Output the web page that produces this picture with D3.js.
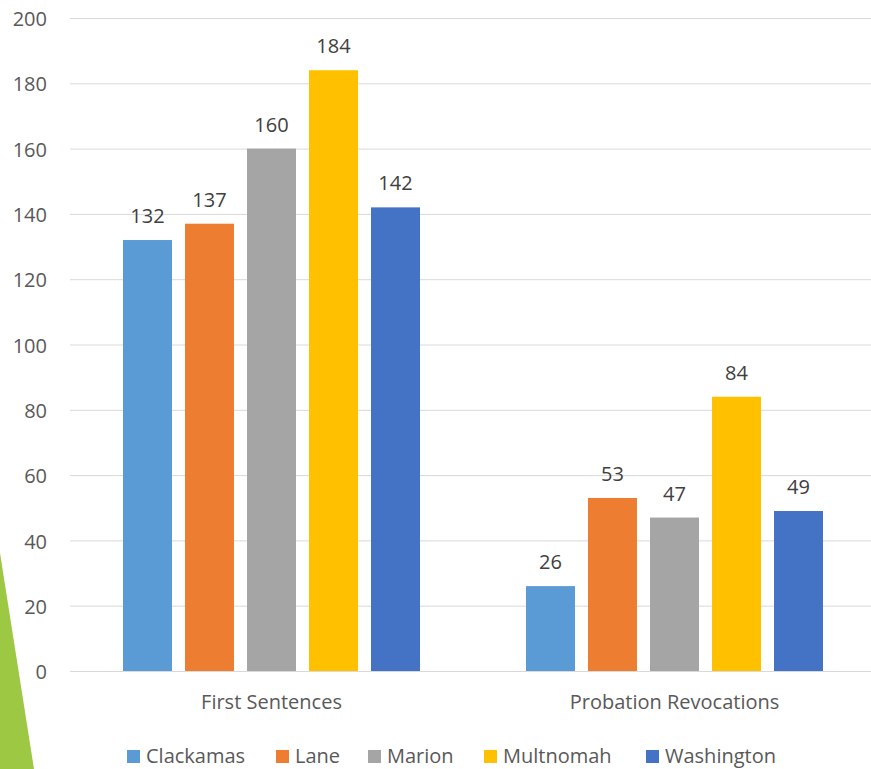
<!DOCTYPE html>
<html><head><meta charset="utf-8">
<script src="https://cdn.jsdelivr.net/npm/d3@7"></script>
<style>body{margin:0;background:#fff}svg{display:block}text{font-family:"Open Sans",sans-serif;fill:#595959}</style>
</head><body><svg id="c" width="871" height="769"></svg>
<script>
const categories = ["First Sentences", "Probation Revocations"];
const seriesNames = ["Clackamas", "Lane", "Marion", "Multnomah", "Washington"];
const seriesValues = [
  [132, 26],
  [137, 53],
  [160, 47],
  [184, 84],
  [142, 49]
];
const seriesColors = ["#5B9BD5", "#ED7D31", "#A5A5A5", "#FFC000", "#4472C4"];
const yTicks = [0, 20, 40, 60, 80, 100, 120, 140, 160, 180, 200];

const FS = 20;
const svg = d3.select("#c");
// decorative green shape
svg.append("path").attr("d", "M0,553 L34,769 L0,769 Z").attr("fill", "#9DC844");

const y = d3.scaleLinear().domain([0, 200]).range([671, 18]);
const x0 = d3.scaleBand().domain(categories).range([70, 876]);
const x1 = d3.scaleBand().domain(seriesNames).range([53, 350]).paddingInner(0.21);

const yAxis = d3.axisLeft(y).tickValues(yTicks).tickSize(-806).tickPadding(23);
const gy = svg.append("g").attr("transform", "translate(70,0)").call(yAxis);
gy.select(".domain").remove();
gy.selectAll(".tick line").attr("stroke", "#d9d9d9").attr("stroke-width", 1);
gy.selectAll(".tick text").attr("font-size", FS).attr("dy", "0.38em").style("fill", "#595959").attr("font-family", "Open Sans");

const bars = [];
seriesNames.forEach((s, i) => categories.forEach((c, j) => bars.push({s, c, v: seriesValues[i][j], color: seriesColors[i]})));
svg.append("g").selectAll("rect").data(bars).join("rect")
  .attr("x", d => x0(d.c) + x1(d.s))
  .attr("width", x1.bandwidth())
  .attr("y", d => y(d.v))
  .attr("height", d => y(0) - y(d.v))
  .attr("fill", d => d.color);
svg.append("g").selectAll("text").data(bars).join("text")
  .attr("x", d => x0(d.c) + x1(d.s) + x1.bandwidth() / 2)
  .attr("y", d => y(d.v) - 17)
  .attr("text-anchor", "middle").attr("font-size", FS)
  .style("fill", "#404040")
  .text(d => d.v);

const xAxis = d3.axisBottom(x0).tickSize(0).tickPadding(24);
const gx = svg.append("g").attr("transform", `translate(0,${y(0)})`).call(xAxis);
gx.select(".domain").remove();
gx.selectAll(".tick text").attr("font-size", FS).style("fill", "#595959").attr("font-family", "Open Sans");

const legendX = [127, 276, 368, 484, 646];
const lg = svg.append("g").selectAll("g").data(seriesNames).join("g")
  .attr("transform", (d, i) => `translate(${legendX[i]},750)`);
lg.append("rect").attr("width", 13).attr("height", 13).attr("fill", (d, i) => seriesColors[i]);
lg.append("text").attr("x", 19).attr("y", 13).attr("font-size", FS).style("fill", "#595959").text(d => d);
</script></body></html>
